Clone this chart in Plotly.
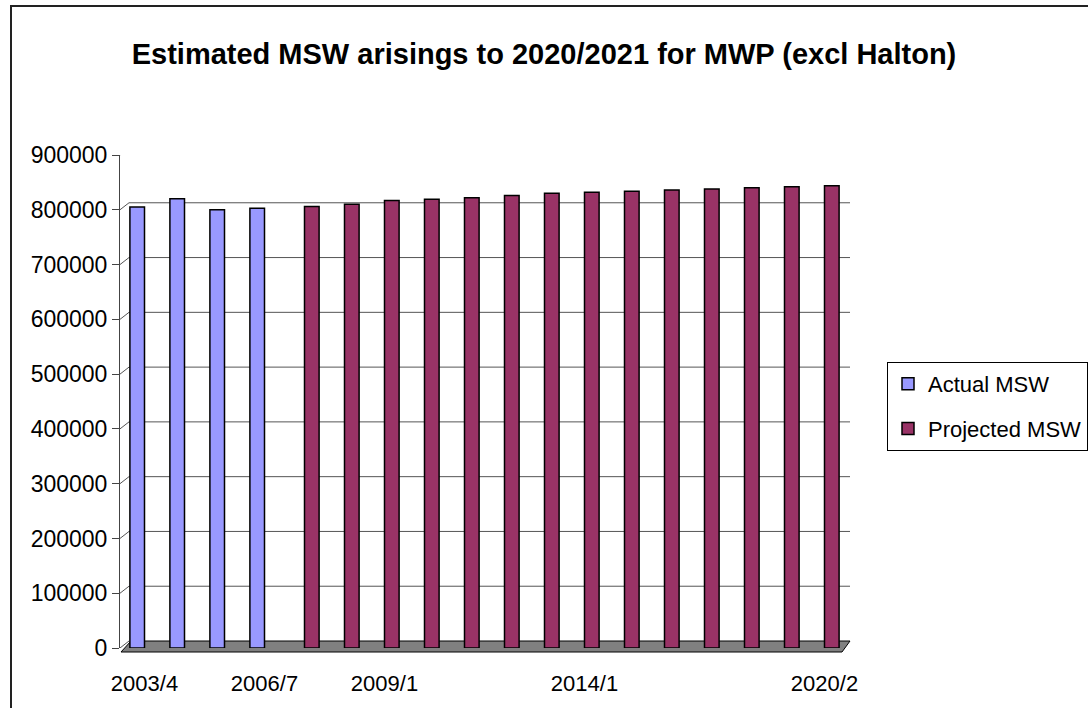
import plotly.graph_objects as go

categories = ["2003/4", "2004/5", "2005/6", "2006/7", "2007/8", "2008/9", "2009/10",
              "2010/11", "2011/12", "2012/13", "2013/14", "2014/15", "2015/16",
              "2016/17", "2017/18", "2018/19", "2019/20", "2020/21"]
actual_msw = [805000, 820000, 800000, 803000] + [None] * 14
projected_msw = [None] * 4 + [806000, 810000, 817000, 819000, 822000, 826000, 830000,
                              832000, 834000, 836000, 838000, 840000, 842000, 844000]
tick_cats = ["2003/4", "2006/7", "2009/10", "2014/15", "2020/21"]
tick_text = ["2003/4", "2006/7", "2009/1", "2014/1", "2020/2"]
y_ticks = list(range(0, 900001, 100000))

FONT = "Arial, Liberation Sans, sans-serif"
W, H = 1088, 708
L, R, T, B = 120, 240, 155, 60
PW, PH = W - L - R, H - T - B


def px(x):
    return (x - L) / PW


def py(y):
    return (H - B - y) / PH


fig = go.Figure()
fig.add_trace(go.Bar(x=categories, y=actual_msw, name="Actual MSW",
                     marker=dict(color="#9999FF", line=dict(color="black", width=1.5)),
                     legendgroup="a"))
fig.add_trace(go.Bar(x=categories, y=projected_msw, name="Projected MSW",
                     marker=dict(color="#993366", line=dict(color="black", width=1.5)),
                     legendgroup="b"))

shapes = []
# chart frame
shapes.append(dict(type="rect", xref="paper", yref="paper",
                   x0=px(11), x1=px(1095), y0=py(715), y1=py(6),
                   line=dict(color="#222", width=2), fillcolor="rgba(0,0,0,0)", layer="below"))
# floor
shapes.append(dict(type="path", xref="paper", yref="paper",
                   path=f"M{px(121)},{py(652)} L{px(131)},{py(641)} L{px(850)},{py(641)} L{px(842)},{py(652)} Z",
                   fillcolor="#808080", line=dict(color="black", width=1), layer="below"))
# back-wall gridlines and connectors
for v in y_ticks:
    if v > 0:
        shapes.append(dict(type="line", xref="paper", x0=px(129), x1=px(850),
                           yref="y", ysizemode="pixel", yanchor=v, y0=7, y1=7,
                           line=dict(color="#555", width=1), layer="below"))
    shapes.append(dict(type="line", xref="paper", xsizemode="pixel", xanchor=0, x0=0, x1=9,
                       yref="y", ysizemode="pixel", yanchor=v, y0=0, y1=7,
                       line=dict(color="#555", width=1), layer="below"))

fig.update_layout(
    width=W, height=H,
    margin=dict(l=L, r=R, t=T, b=B),
    paper_bgcolor="white", plot_bgcolor="rgba(0,0,0,0)",
    font=dict(family=FONT, color="black"),
    title=dict(text="<b>Estimated MSW arisings to 2020/2021 for MWP (excl Halton)</b>",
               x=544 / W, xref="container", xanchor="center",
               y=1 - 54 / H, yref="container", yanchor="middle",
               font=dict(size=29, family=FONT, color="black")),
    barmode="group", bargap=0.27, bargroupgap=0,
    showlegend=True,
    legend=dict(xref="container", yref="container", x=887 / W, y=1 - 362 / H,
                xanchor="left", yanchor="top",
                bordercolor="black", borderwidth=1, bgcolor="white",
                font=dict(size=22, family=FONT, color="black"),
                tracegroupgap=13, traceorder="grouped", itemwidth=30),
    shapes=shapes,
)
fig.update_xaxes(type="category", range=[-0.6125, 17.5875],
                 tickmode="array", tickvals=tick_cats, ticktext=tick_text,
                 ticks="", showline=False, showgrid=False, zeroline=False,
                 tickfont=dict(size=22, family=FONT, color="black"),
                 ticklabelstandoff=20)
fig.update_yaxes(range=[0, 900000], tickmode="array", tickvals=y_ticks,
                 ticktext=[str(v) for v in y_ticks],
                 showgrid=False, zeroline=False,
                 showline=True, linecolor="#444", linewidth=1,
                 ticks="outside", ticklen=7, tickcolor="#444",
                 tickfont=dict(size=23, family=FONT, color="black"))

fig.write_html("out.html", config={"displayModeBar": False},
               post_script="document.body.style.margin='0';document.body.style.overflow='hidden';")
